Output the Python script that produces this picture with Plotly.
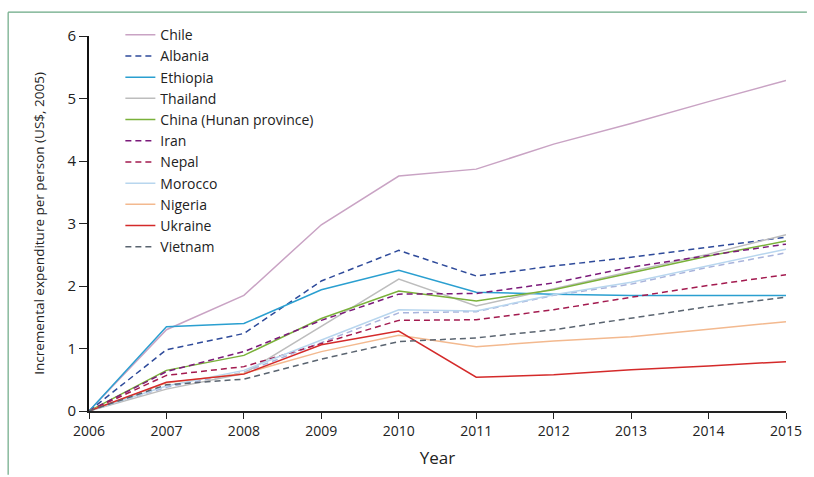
import plotly.graph_objects as go

years = [2006, 2007, 2008, 2009, 2010, 2011, 2012, 2013, 2014, 2015]

chile    = [0, 1.30, 1.85, 2.98, 3.76, 3.87, 4.27, 4.60, 4.95, 5.29]
albania  = [0, 0.98, 1.24, 2.08, 2.57, 2.16, 2.32, 2.46, 2.62, 2.78]
ethiopia = [0, 1.35, 1.40, 1.94, 2.25, 1.90, 1.87, 1.85, 1.85, 1.85]
thailand = [0, 0.35, 0.60, 1.36, 2.11, 1.68, 1.96, 2.24, 2.51, 2.82]
china    = [0, 0.65, 0.89, 1.48, 1.92, 1.76, 1.94, 2.21, 2.48, 2.72]
iran     = [0, 0.63, 0.95, 1.45, 1.87, 1.88, 2.05, 2.30, 2.49, 2.67]
nepal    = [0, 0.57, 0.71, 1.08, 1.45, 1.46, 1.62, 1.82, 2.01, 2.18]
morocco  = [0, 0.40, 0.65, 1.13, 1.62, 1.60, 1.86, 2.06, 2.33, 2.59]
nigeria  = [0, 0.45, 0.60, 0.95, 1.21, 1.03, 1.12, 1.19, 1.31, 1.43]
ukraine  = [0, 0.46, 0.59, 1.06, 1.28, 0.54, 0.58, 0.66, 0.72, 0.79]
vietnam  = [0, 0.42, 0.51, 0.83, 1.11, 1.17, 1.30, 1.48, 1.67, 1.82]
unlabelled = [0, 0.38, 0.62, 1.10, 1.57, 1.59, 1.85, 2.03, 2.30, 2.53]

series = [
    ("Chile", chile, "#c9a3c4", "solid"),
    ("Albania", albania, "#2e4a9a", "dash"),
    ("Ethiopia", ethiopia, "#2a9fd0", "solid"),
    ("Thailand", thailand, "#bdbdbd", "solid"),
    ("China (Hunan province)", china, "#7ab13a", "solid"),
    ("Iran", iran, "#7b1a7a", "dash"),
    ("Nepal", nepal, "#a31a4f", "dash"),
    ("Morocco", morocco, "#b8d6ee", "solid"),
    ("Nigeria", nigeria, "#f3b98f", "solid"),
    ("Ukraine", ukraine, "#d42a2a", "solid"),
    ("Vietnam", vietnam, "#5a6470", "dash"),
]

FONT = "Open Sans, sans-serif"

fig = go.Figure()
# unlabelled dashed series (no legend entry in the original)
fig.add_trace(go.Scatter(x=years, y=unlabelled, mode="lines", showlegend=False,
                         line=dict(color="#a9b4dc", width=1.5, dash="6px,4px")))
for name, vals, color, dash in series:
    fig.add_trace(go.Scatter(
        x=years, y=vals, mode="lines", name=name,
        line=dict(color=color, width=1.5, dash=("6px,4px" if dash == "dash" else "solid")),
    ))

fig.update_layout(
    width=814, height=477,
    margin=dict(l=89, r=18, t=36, b=63),
    plot_bgcolor="white", paper_bgcolor="white",
    font=dict(family=FONT, size=14, color="#222222"),
    legend=dict(x=0.045, y=1.045, xanchor="left", yanchor="top", maxheight=460,
                bgcolor="rgba(0,0,0,0)", font=dict(size=14), traceorder="normal"),
    xaxis=dict(range=[2006, 2015], tickmode="array", tickvals=years,
               showgrid=False, zeroline=False, showline=True, linecolor="#222222",
               linewidth=1.5, ticks="outside", ticklen=6, tickcolor="#222222",
               title=dict(text="Year", standoff=14), tickfont=dict(size=14)),
    yaxis=dict(range=[0, 6], tickvals=[0, 1, 2, 3, 4, 5, 6],
               showgrid=False, zeroline=False, showline=True, linecolor="#111111",
               linewidth=2, ticks="outside", ticklen=8, tickcolor="#222222",
               title=dict(text="Incremental expenditure per person (US$, 2005)", font=dict(size=13.5), standoff=20),
               tickfont=dict(size=15)),
    shapes=[
        dict(type="line", xref="paper", yref="paper", x0=-0.116, x1=1.03, y0=1.0635, y1=1.0635,
             line=dict(color="#6aa884", width=1.2)),
        dict(type="line", xref="paper", yref="paper", x0=-0.116, x1=-0.116, y0=1.0635, y1=-0.17,
             line=dict(color="#6aa884", width=1.2)),
    ],
)

fig.write_html("out.html")
